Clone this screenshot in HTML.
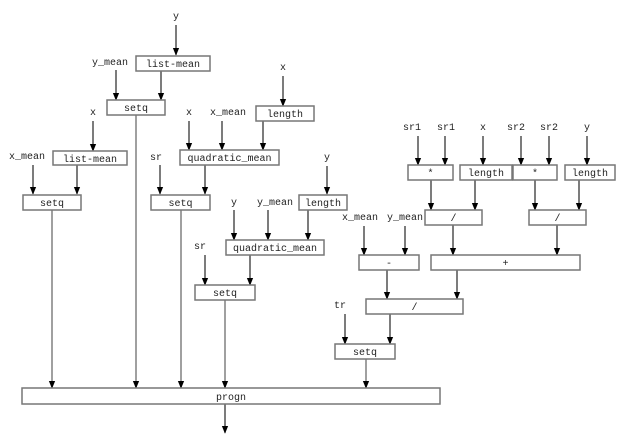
<!DOCTYPE html>
<html><head><meta charset="utf-8"><style>
html,body{margin:0;padding:0;background:#fff;}
svg{display:block;}
text{font-family:"Liberation Mono",monospace;font-size:10px;fill:#222;}
.b{fill:#fff;stroke:#777;stroke-width:1.5;}
.l{stroke:#777;stroke-width:1.4;fill:none;}
.k{stroke:#111;stroke-width:1.1;fill:none;}
</style></head><body>
<svg width="618" height="445" viewBox="0 0 618 445" xmlns="http://www.w3.org/2000/svg">
<defs><marker id="a" markerWidth="8" markerHeight="10" refX="4" refY="9" orient="auto-start-reverse" markerUnits="userSpaceOnUse" viewBox="0 0 8 10"><path d="M0,0 L8,0 L4,10 Z" fill="#000" transform="rotate(0)"/></marker>
<marker id="d" markerWidth="8" markerHeight="10" refX="9" refY="4" orient="auto" markerUnits="userSpaceOnUse" viewBox="0 0 10 8"><path d="M0,0 L10,4 L0,8 Z" fill="#000"/></marker></defs>
<g marker-end="url(#d)">
<!-- black short arrows -->
<line class="k" x1="176" y1="25" x2="176" y2="55"/>
<line class="k" x1="116" y1="70" x2="116" y2="100"/>
<line class="k" x1="161" y1="71" x2="161" y2="100"/>
<line class="k" x1="283" y1="76" x2="283" y2="106"/>
<line class="k" x1="93" y1="121" x2="93" y2="151"/>
<line class="k" x1="33" y1="165" x2="33" y2="194"/>
<line class="k" x1="77" y1="165" x2="77" y2="194"/>
<line class="k" x1="189" y1="121" x2="189" y2="150"/>
<line class="k" x1="222" y1="121" x2="222" y2="150"/>
<line class="k" x1="263" y1="121" x2="263" y2="150"/>
<line class="k" x1="160" y1="165" x2="160" y2="194"/>
<line class="k" x1="205" y1="165" x2="205" y2="194"/>
<line class="k" x1="327" y1="166" x2="327" y2="194"/>
<line class="k" x1="234" y1="210" x2="234" y2="240"/>
<line class="k" x1="268" y1="210" x2="268" y2="240"/>
<line class="k" x1="308" y1="210" x2="308" y2="240"/>
<line class="k" x1="205" y1="255" x2="205" y2="285"/>
<line class="k" x1="250" y1="255" x2="250" y2="285"/>
<line class="k" x1="418" y1="136" x2="418" y2="165"/>
<line class="k" x1="445" y1="136" x2="445" y2="165"/>
<line class="k" x1="483" y1="136" x2="483" y2="165"/>
<line class="k" x1="521" y1="136" x2="521" y2="165"/>
<line class="k" x1="549" y1="136" x2="549" y2="165"/>
<line class="k" x1="587" y1="136" x2="587" y2="165"/>
<line class="k" x1="431" y1="180" x2="431" y2="210"/>
<line class="k" x1="475" y1="180" x2="475" y2="210"/>
<line class="k" x1="535" y1="180" x2="535" y2="210"/>
<line class="k" x1="579" y1="180" x2="579" y2="210"/>
<line class="k" x1="364" y1="226" x2="364" y2="255"/>
<line class="k" x1="405" y1="226" x2="405" y2="255"/>
<line class="k" x1="453" y1="225" x2="453" y2="255"/>
<line class="k" x1="557" y1="225" x2="557" y2="255"/>
<line class="k" x1="387" y1="270" x2="387" y2="299"/>
<line class="k" x1="457" y1="270" x2="457" y2="299"/>
<line class="k" x1="345" y1="314" x2="345" y2="344"/>
<line class="k" x1="390" y1="314" x2="390" y2="344"/>
<line class="k" x1="225" y1="404" x2="225" y2="433"/>
<!-- long gray lines into progn -->
<line class="l" x1="52" y1="210" x2="52" y2="388"/>
<line class="l" x1="136" y1="115" x2="136" y2="388"/>
<line class="l" x1="181" y1="210" x2="181" y2="388"/>
<line class="l" x1="225" y1="300" x2="225" y2="388"/>
<line class="l" x1="366" y1="359" x2="366" y2="388"/>
</g>
<!-- boxes -->
<rect class="b" x="136" y="56" width="74" height="15"/>
<rect class="b" x="107" y="100" width="58" height="15"/>
<rect class="b" x="256" y="106" width="58" height="15"/>
<rect class="b" x="53" y="151" width="74" height="14"/>
<rect class="b" x="23" y="195" width="58" height="15"/>
<rect class="b" x="180" y="150" width="99" height="15"/>
<rect class="b" x="151" y="195" width="59" height="15"/>
<rect class="b" x="299" y="195" width="48" height="15"/>
<rect class="b" x="226" y="240" width="98" height="15"/>
<rect class="b" x="195" y="285" width="60" height="15"/>
<rect class="b" x="408" y="165" width="45" height="15"/>
<rect class="b" x="460" y="165" width="52" height="15"/>
<rect class="b" x="513" y="165" width="44" height="15"/>
<rect class="b" x="565" y="165" width="50" height="15"/>
<rect class="b" x="425" y="210" width="57" height="15"/>
<rect class="b" x="529" y="210" width="57" height="15"/>
<rect class="b" x="359" y="255" width="60" height="15"/>
<rect class="b" x="431" y="255" width="149" height="15"/>
<rect class="b" x="366" y="299" width="97" height="15"/>
<rect class="b" x="335" y="344" width="60" height="15"/>
<rect class="b" x="22" y="388" width="418" height="16"/>
<!-- box labels -->
<g text-anchor="middle">
<text x="173" y="67">list-mean</text>
<text x="136" y="111">setq</text>
<text x="285" y="117">length</text>
<text x="90" y="162">list-mean</text>
<text x="52" y="206">setq</text>
<text x="229.5" y="161">quadratic_mean</text>
<text x="180.5" y="206">setq</text>
<text x="323" y="206">length</text>
<text x="275" y="251">quadratic_mean</text>
<text x="225" y="296">setq</text>
<text x="430.5" y="176">*</text>
<text x="486" y="176">length</text>
<text x="535" y="176">*</text>
<text x="590" y="176">length</text>
<text x="453.5" y="221">/</text>
<text x="557.5" y="221">/</text>
<text x="389" y="266">-</text>
<text x="505.5" y="266">+</text>
<text x="414.5" y="310">/</text>
<text x="365" y="355">setq</text>
<text x="231" y="400">progn</text>
<!-- free labels -->
<text x="176" y="19">y</text>
<text x="110" y="65">y_mean</text>
<text x="283" y="70">x</text>
<text x="93" y="115">x</text>
<text x="27" y="159">x_mean</text>
<text x="189" y="115">x</text>
<text x="228" y="115">x_mean</text>
<text x="156" y="160">sr</text>
<text x="327" y="160">y</text>
<text x="234" y="205">y</text>
<text x="275" y="205">y_mean</text>
<text x="200" y="249">sr</text>
<text x="412" y="130">sr1</text>
<text x="446" y="130">sr1</text>
<text x="483" y="130">x</text>
<text x="516" y="130">sr2</text>
<text x="549" y="130">sr2</text>
<text x="587" y="130">y</text>
<text x="360" y="220">x_mean</text>
<text x="405" y="220">y_mean</text>
<text x="340" y="308">tr</text>
</g>
</svg>
</body></html>
